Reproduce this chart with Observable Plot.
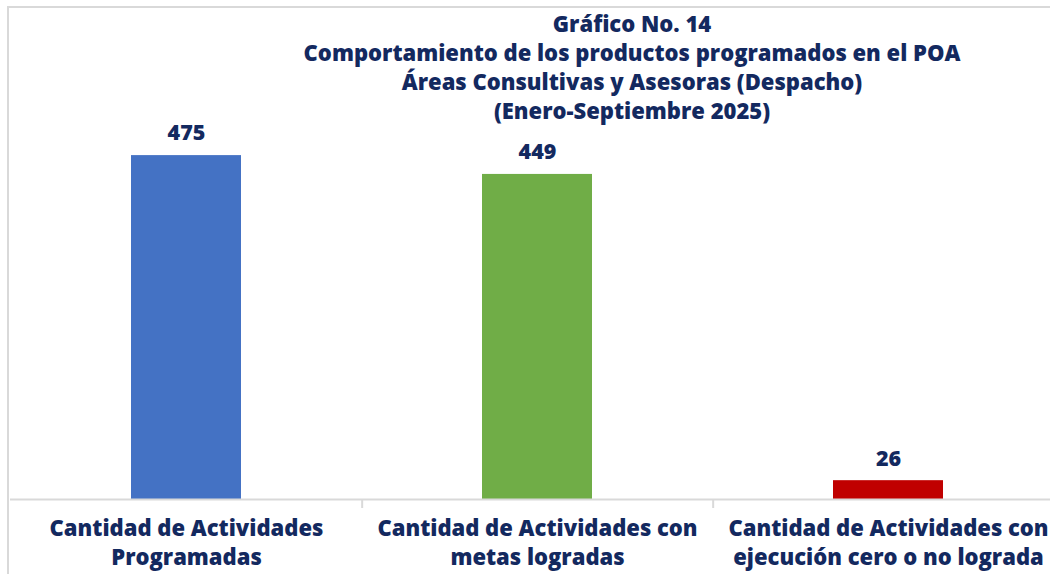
<!DOCTYPE html>
<html>
<head>
<meta charset="utf-8">
<script src="https://cdn.jsdelivr.net/npm/d3@7"></script>
<script src="https://cdn.jsdelivr.net/npm/@observablehq/plot@0.6"></script>
<style>
  html, body { margin: 0; padding: 0; background: #fff; overflow: hidden; }
  #wrap { position: relative; width: 1050px; height: 574px; overflow: hidden; font-family: "Open Sans", Lato, sans-serif; }
  #frame { position: absolute; left: 7px; top: 6px; width: 1100px; height: 700px; border-top: 2px solid #d9d9d9; border-left: 2px solid #d9d9d9; }
  #title { position: absolute; left: 182px; width: 900px; top: 9px; text-align: center; color: #13295f; font-weight: 800; font-size: 22px; line-height: 29px; }
  #chart { position: absolute; left: 0; top: 0; width: 1064px; }
  #chart svg { max-width: none !important; }
</style>
</head>
<body>
<div id="wrap">
  <div id="frame"></div>
  <div id="chart"></div>
  <div id="title">
    <div>Gráfico No. 14</div>
    <div>Comportamiento de los productos programados en el POA</div>
    <div>Áreas Consultivas y Asesoras (Despacho)</div>
    <div>(Enero-Septiembre 2025)</div>
  </div>
</div>
<script>
const categories = [
  "Cantidad de Actividades\nProgramadas",
  "Cantidad de Actividades con\nmetas logradas",
  "Cantidad de Actividades con\nejecución cero o no lograda"
];
const values = [475, 449, 26];
const colors = ["#4472c4", "#70ad47", "#c00000"];

const data = categories.map((c, i) => ({category: c, value: values[i], color: colors[i]}));

const W = 1064, mL = 10, mR = 0;
const step = (W - mL - mR) / categories.length;
const navy = "#13295f";
const font = "'Open Sans', Lato, sans-serif";

const chart = Plot.plot({
  width: W,
  height: 574,
  marginLeft: mL,
  marginRight: mR,
  marginTop: 137,
  marginBottom: 75,
  style: {fontFamily: font, background: "transparent", overflow: "visible", maxWidth: "none"},
  x: {domain: categories, paddingInner: 0.687, paddingOuter: 0.3435, label: null},
  y: {domain: [0, 500], axis: null},
  marks: [
    Plot.barY(data, {x: "category", y: "value", fill: "color"}),
    Plot.ruleY([0], {stroke: "#d9d9d9", strokeWidth: 2}),
    Plot.ruleX(categories.slice(0, categories.length - 1), {x: d => d, dx: step / 2, y1: 0, y2: 0, insetBottom: -9, stroke: "#d9d9d9", strokeWidth: 2}),
    Plot.text(data, {x: "category", y: "value", text: d => String(d.value), dy: -22, fill: navy, fontWeight: 800, fontSize: 21.5}),
    Plot.axisX({tickSize: 0, tickPadding: 16, fontSize: 22, fontWeight: 800, fill: navy, lineHeight: 1.32, label: null})
  ]
});
document.getElementById("chart").appendChild(chart);
</script>
</body>
</html>
